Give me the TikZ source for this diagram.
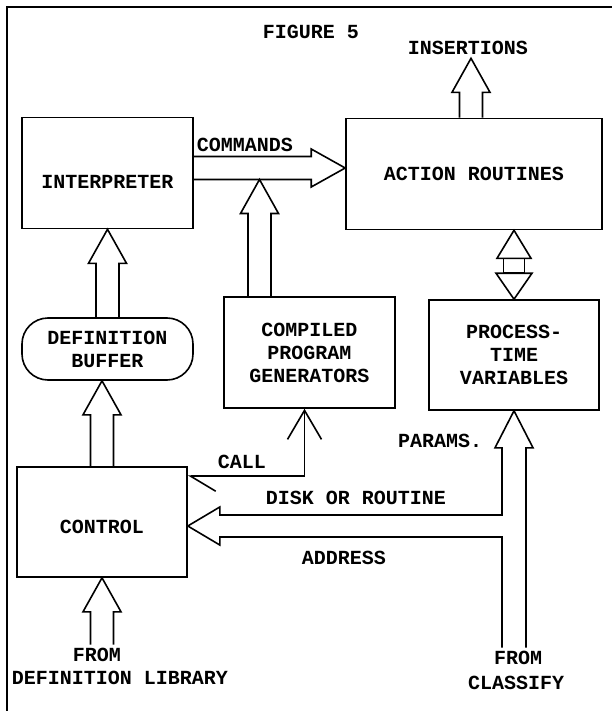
\documentclass[tikz,border=0pt]{standalone}
\usepackage{fontspec}
\setmainfont{Liberation Mono}
\usetikzlibrary{arrows.meta,calc}
\tikzset{
  every node/.style={font=\bfseries\fontsize{20}{23}\selectfont,align=center},
  pipe/.style={line width=1.6pt,line join=miter},
  blk/.style={draw,line width=1.6pt,minimum width=171pt,minimum height=111pt,inner sep=0pt},
  fat/.style={to path={let \p1=($(\tikztotarget)!34pt!(\tikztostart)$) in
    ($(\tikztostart)!11.5pt!90:(\tikztotarget)$) -- ($(\p1)!11.5pt!90:(\tikztotarget)$)
    -- ($(\p1)!19pt!90:(\tikztotarget)$) -- (\tikztotarget)
    -- ($(\p1)!19pt!-90:(\tikztotarget)$) -- ($(\p1)!11.5pt!-90:(\tikztotarget)$)
    -- ($(\tikztostart)!11.5pt!-90:(\tikztotarget)$)}},
}

\begin{document}
\begin{tikzpicture}[x=1pt,y=-1pt]
\useasboundingbox (0,0) rectangle (612,711);
\draw[pipe] (7,711) -- (7,7) -- (612,7);
\node (fig) at (311,32) {FIGURE 5};
\node (ins) at (468,48) {INSERTIONS};
\node[blk,text height=32pt] (interp) at (107.5,173) {INTERPRETER};
\node[blk,minimum width=256pt] (act) at (474,174) {ACTION ROUTINES};
\node[blk,rounded corners=26pt,minimum height=62pt] (buf) at (107.5,349) {DEFINITION\\BUFFER};
\node[blk] (comp) at (309.5,352.5) {COMPILED\\PROGRAM\\GENERATORS};
\node[blk,minimum width=170pt,minimum height=110pt] (ptv) at (514,355) {PROCESS-\\TIME\\VARIABLES};
\node[blk,minimum width=170pt,minimum height=110pt,text height=24pt] (ctl) at (102,522) {CONTROL};
\node (cmd) at (245,145) {COMMANDS};
\node (call) at (242,462) {CALL};
\node (prm) at (440,441) {PARAMS.};
\node (disk) at (356,498) {DISK OR ROUTINE};
\node (addr) at (344,558) {ADDRESS};
\node (from1) at (97,655) {FROM};
\node (lib) at (120,678) {DEFINITION LIBRARY};
\node (from2) at (518,658) {FROM};
\node (cls) at (516,683) {CLASSIFY};

\coordinate (cmds) at ([yshift=5pt]interp.east);
\coordinate (cmdt) at (act.west |- cmds);
\coordinate (cmdlow) at ([yshift=-11.5pt]cmds);
\coordinate (cpin) at ([xshift=-50pt]comp.north);
\coordinate (cpout) at (cpin |- cmdlow);
\coordinate (insa) at ([xshift=-3pt]act.north);
\coordinate (insb) at (insa |- ins.south);
\coordinate (bufin) at (ctl.north |- buf.south);
\coordinate (libin) at (ctl.south |- from1.north);
\coordinate (dbl) at (ptv.north |- act.south);
\coordinate (callin) at ([xshift=-5pt]comp.south);
\coordinate (tipc) at ([yshift=-4pt]ctl.east);
\coordinate (tipp) at (ptv.south);

\draw[pipe] (cmds) to[fat] (cmdt);
\draw[pipe] (cpin) to[fat] (cpout);
\draw[pipe] (insa) to[fat] (insb);
\draw[pipe] (buf.north) to[fat] (interp.south);
\draw[pipe] (ctl.north) to[fat] (bufin);
\draw[pipe] (libin) to[fat] (ctl.south);
\draw[pipe] (ptv.north) -- ++(-18,-26) -- ++(36,0) -- cycle;
\draw[pipe] (dbl) -- ++(-17,28) -- ++(34,0) -- cycle;
\draw[pipe] ([xshift=-10.5pt,yshift=26pt]ptv.north) rectangle ([xshift=10.5pt,yshift=-28pt]dbl);
\draw[pipe,{Straight Barb[harpoon,length=25pt,width=30pt]}-{Straight Barb[length=29pt,width=34pt]}]
  ([yshift=-10pt]ctl.north east) -| (callin);
\draw[pipe] ([xshift=12pt]tipp |- from2.north) -- ([xshift=12pt,yshift=-37pt]tipp) -- ++(7,0)
  -- (tipp) -- ++(-19,37) -- ++(7,0) |- ([xshift=32pt,yshift=11pt]tipc) -- ++(0,-8)
  -- (tipc) -- ++(32,19) -- ++(0,-8) -| ([xshift=-12pt]tipp |- from2.north);
\end{tikzpicture}
\end{document}
